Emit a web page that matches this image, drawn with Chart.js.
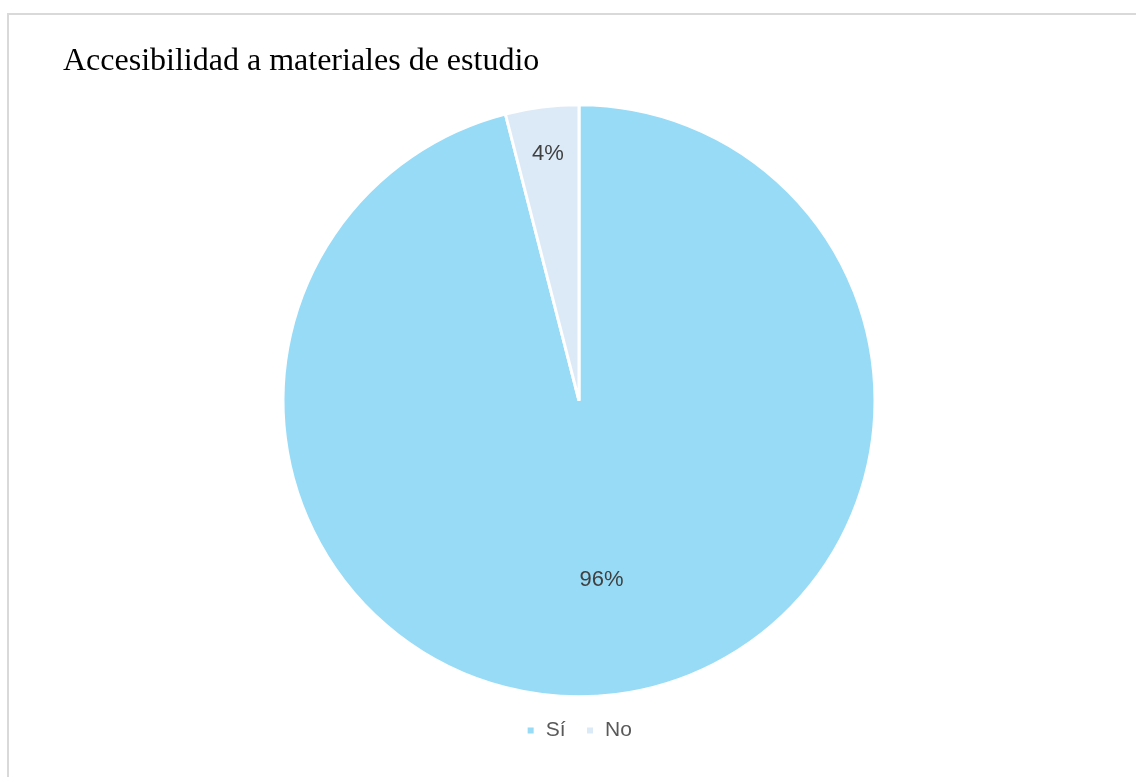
<!DOCTYPE html>
<html>
<head>
<meta charset="utf-8">
<script src="https://cdn.jsdelivr.net/npm/chart.js@4/dist/chart.umd.min.js"></script>
<style>
  html, body { margin: 0; padding: 0; background: #fff; }
  #wrap {
    position: absolute; left: 7px; top: 13px; width: 1127px; height: 762px;
    border-top: 2px solid #d9d9d9; border-left: 2px solid #d9d9d9;
  }
  canvas { display: block; }
</style>
</head>
<body>
<div id="wrap"><canvas id="pieChart" width="1127" height="762"></canvas></div>
<script>
const categories = ['Sí', 'No'];
const percentages = [96, 4];
const sliceColors = ['#97dbf7', '#dce9f7'];
const labelRadius = [0.61, 0.84]; // posición de la etiqueta respecto al radio

// Etiquetas de porcentaje dentro de cada porción
const sliceLabels = {
    id: 'sliceLabels',
    afterDatasetsDraw(chart) {
        const ctx = chart.ctx;
        const meta = chart.getDatasetMeta(0);
        ctx.save();
        ctx.font = '22px "Liberation Sans", Arial, sans-serif';
        ctx.fillStyle = '#404040';
        ctx.textAlign = 'center';
        ctx.textBaseline = 'middle';
        meta.data.forEach((arc, i) => {
            const p = arc.getProps(['x', 'y', 'startAngle', 'endAngle', 'outerRadius'], true);
            const mid = (p.startAngle + p.endAngle) / 2;
            const r = p.outerRadius * labelRadius[i];
            ctx.fillText(percentages[i] + '%', p.x + Math.cos(mid) * r, p.y + Math.sin(mid) * r);
        });
        ctx.restore();
    }
};

new Chart(document.getElementById('pieChart'), {
    type: 'pie',
    data: {
        labels: categories,
        datasets: [{
            data: percentages,
            backgroundColor: sliceColors,
            borderColor: '#ffffff',
            borderWidth: 3
        }]
    },
    options: {
        responsive: false,
        animation: false,
        radius: 296,
        layout: { padding: { left: 54, right: 41, top: 0, bottom: 26 } },
        plugins: {
            title: {
                display: true,
                text: 'Accesibilidad a materiales de estudio',
                align: 'start',
                color: '#000000',
                font: { family: '"Liberation Serif", "Times New Roman", serif', size: 32, weight: 'normal' },
                padding: { top: 27, bottom: 21 }
            },
            legend: {
                position: 'bottom',
                labels: {
                    color: '#595959',
                    font: { family: '"Liberation Sans", Arial, sans-serif', size: 21 },
                    boxWidth: 9,
                    boxHeight: 9,
                    padding: 20
                }
            },
            tooltip: { enabled: false }
        }
    },
    plugins: [sliceLabels]
});
</script>
</body>
</html>
